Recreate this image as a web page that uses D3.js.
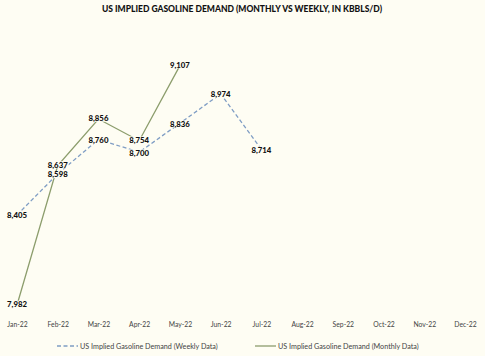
<!DOCTYPE html>
<html><head><meta charset="utf-8">
<script src="https://cdn.jsdelivr.net/npm/d3@7"></script>
<style>
html,body{margin:0;padding:0;background:#fefdf3;}
svg{display:block;}
</style></head>
<body>
<script>
const months = ["Jan-22","Feb-22","Mar-22","Apr-22","May-22","Jun-22","Jul-22","Aug-22","Sep-22","Oct-22","Nov-22","Dec-22"];
const weekly = [8405, 8598, 8760, 8700, 8836, 8974, 8714];
const monthly = [7982, 8637, 8856, 8754, 9107];
const seriesNames = ["US Implied Gasoline Demand (Weekly Data)", "US Implied Gasoline Demand (Monthly Data)"];
const title = "US IMPLIED GASOLINE DEMAND (MONTHLY VS WEEKLY, IN KBBLS/D)";

const W = 485, H = 356;
const bg = "#fefdf3";
const svg = d3.select("body").append("svg").attr("width", W).attr("height", H);
svg.append("rect").attr("width", W).attr("height", H).attr("fill", bg);

const x = d3.scalePoint().domain(months).range([17, 465]);
const y = d3.scaleLinear().domain([7800, 9200]).range([343.7, 45.8]);

svg.append("text").attr("x", 242).attr("y", 12).attr("text-anchor", "middle")
  .attr("font-family", "Lato, sans-serif").attr("font-weight", "900").attr("font-size", 8.5)
  .attr("fill", "#111").text(title);

const xAxis = svg.append("g").attr("transform", "translate(0,322)")
  .call(d3.axisBottom(x).tickSize(0).tickPadding(0));
xAxis.select(".domain").remove();
xAxis.selectAll("text").attr("font-family", "Lato, sans-serif").attr("font-size", 6.8)
  .attr("fill", "#444").attr("dy", "0.71em");

const series = [
  {name: seriesNames[0], values: weekly, color: "#7f9dc4", dash: "4,2.5", nudge: 0.8},
  {name: seriesNames[1], values: monthly, color: "#8c9d6c", dash: null, nudge: -0.8}
];
const line = d3.line().x((d, i) => x(months[i])).y(d => y(d));

series.forEach(s => {
  svg.append("path").datum(s.values).attr("d", line).attr("fill", "none")
    .attr("stroke", s.color).attr("stroke-width", 1.3)
    .attr("stroke-dasharray", s.dash);
});

series.forEach(s => {
  const g = svg.append("g");
  s.values.forEach((v, i) => {
    const cy = y(v) + s.nudge;
    const r = g.append("rect").attr("fill", bg);
    const t = g.append("text").attr("x", x(months[i])).attr("y", cy)
      .attr("text-anchor", "middle").attr("dy", "0.35em")
      .attr("font-family", "Lato, sans-serif").attr("font-weight", "900").attr("font-size", 7.8)
      .attr("fill", "#111").text(d3.format(",")(v));
    const b = t.node().getBBox();
    r.attr("x", b.x - 0.5).attr("y", cy - 3.5).attr("width", b.width + 1).attr("height", 7);
  });
});

// legend
const leg = svg.append("g").attr("font-family", "Lato, sans-serif").attr("font-size", 7.2).attr("fill", "#444");
const legX = [57, 255];
series.forEach((s, i) => {
  leg.append("line").attr("x1", legX[i]).attr("x2", legX[i] + 21).attr("y1", 346).attr("y2", 346)
    .attr("stroke", s.color).attr("stroke-width", 1.3).attr("stroke-dasharray", s.dash);
  leg.append("text").attr("x", legX[i] + 23).attr("y", 346).attr("dy", "0.35em").text(s.name);
});
</script>
</body></html>
